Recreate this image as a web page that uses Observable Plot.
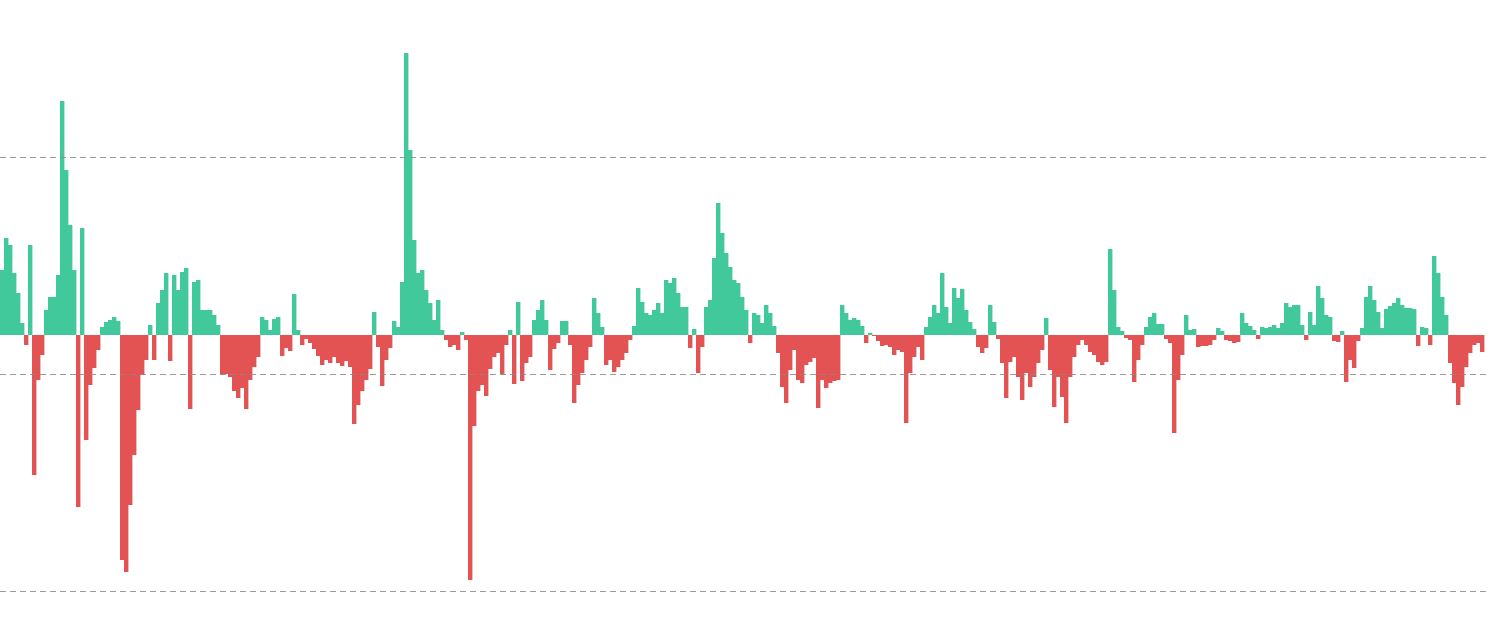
<!DOCTYPE html>
<html>
<head>
<meta charset="utf-8">
<script src="https://cdn.jsdelivr.net/npm/d3@7"></script>
<script src="https://cdn.jsdelivr.net/npm/@observablehq/plot@0.6"></script>
<style>
  html, body { margin: 0; padding: 0; background: #ffffff; }
  #chart { width: 1490px; height: 633px; overflow: hidden; }
  svg { display: block; }
</style>
</head>
<body>
<div id="chart"></div>
<script>
// One value per time step (positive = green, negative = red)
const values = [
  65, 97, 90, 62, 42, 12, -10, 90, -140, -45, -20, 25, 38, 38, 60, 234, 165, 110, 65, -172,
  107, -105, -50, -33, -15, 8, 13, 15, 18, 14, -225, -237, -170, -120, -75, -40, -25, 10, -25, 32,
  45, 62, -26, 60, 45, 63, 67, -74, 53, 55, 25, 25, 25, 20, 10, -40, -39, -42, -56, -63,
  -53, -74, -45, -32, -22, 18, 15, 5, 16, 18, -21, -13, -16, 41, 5, -10, -4, -8, -14, -21,
  -30, -25, -28, -22, -28, -31, -26, -32, -89, -70, -56, -45, -34, 23, -12, -51, -25, -13, 14, 8,
  53, 282, 185, 95, 62, 65, 45, 32, 15, 35, 5, -5, -12, -10, -15, 3, -5, -245, -91, -56,
  -50, -61, -34, -22, -18, -39, -10, 5, -49, 33, -46, -28, -22, 15, 25, 35, 15, -35, -14, -8,
  14, 14, -10, -68, -50, -38, -25, -12, 37, 22, 8, -30, -25, -37, -32, -25, -18, -5, 9, 47,
  33, 22, 20, 25, 32, 22, 55, 52, 57, 42, 28, 28, -13, 6, -38, -12, 28, 35, 77, 132,
  102, 82, 68, 55, 52, 38, 25, -8, 22, 20, 12, 30, 22, 9, -18, -52, -68, -35, -15, -45,
  -48, -30, -27, -23, -73, -45, -53, -48, -46, -45, 30, 22, 15, 17, 15, 9, -8, 2, -1, -6,
  -11, -10, -12, -20, -15, -17, -88, -38, -22, -12, -25, 8, 18, 30, 22, 62, 28, 12, 47, 37,
  46, 25, 13, 6, -12, -18, -13, 30, 13, -4, -28, -63, -27, -22, -42, -65, -38, -52, -42, -28,
  -15, 17, -35, -72, -42, -62, -88, -42, -22, -10, -5, -10, -17, -20, -27, -30, -27, 86, 45, 8,
  4, -3, -5, -47, -25, -10, 8, 18, 22, 11, 11, -4, -8, -98, -45, -20, 20, 5, 6, -12,
  -11, -11, -10, -5, 7, 4, -5, -6, -8, -7, 22, 12, 9, 5, -4, 8, 7, 8, 10, 7,
  12, 32, 28, 30, 30, 10, -5, 23, 10, 49, 37, 20, 18, -6, -7, 4, -47, -25, -33, -6,
  7, 38, 49, 35, 23, 7, 26, 29, 32, 37, 30, 27, 27, 26, -11, 8, 7, -10, 79, 62,
  38, 20, -28, -48, -70, -52, -32, -18, -10, -8, -17
];
// Dashed horizontal reference lines
const gridValues = [178, -39, -256];
const yDomain = [-298, 335];
const slotCount = 372.5;

const green = "#41c89b";
const red = "#e45353";

const data = values.map((v, i) => ({i, v}));

const chart = Plot.plot({
  width: 1490,
  height: 633,
  margin: 0,
  x: {type: "linear", domain: [0, slotCount], axis: null},
  y: {type: "linear", domain: yDomain, axis: null},
  marks: [
    Plot.rectY(data.filter(d => d.v >= 0), {
      x1: "i", x2: d => d.i + 1.1, y1: 0, y2: "v",
      fill: green, inset: 0
    }),
    Plot.rectY(data.filter(d => d.v < 0), {
      x1: "i", x2: d => d.i + 1.1, y1: 0, y2: "v",
      fill: red, inset: 0
    }),
    Plot.ruleY(gridValues, {
      stroke: "#8a8a8a", strokeOpacity: 0.85, strokeWidth: 1,
      strokeDasharray: "6,4", shapeRendering: "crispEdges"
    })
  ]
});
document.getElementById("chart").appendChild(chart);
</script>
</body>
</html>
